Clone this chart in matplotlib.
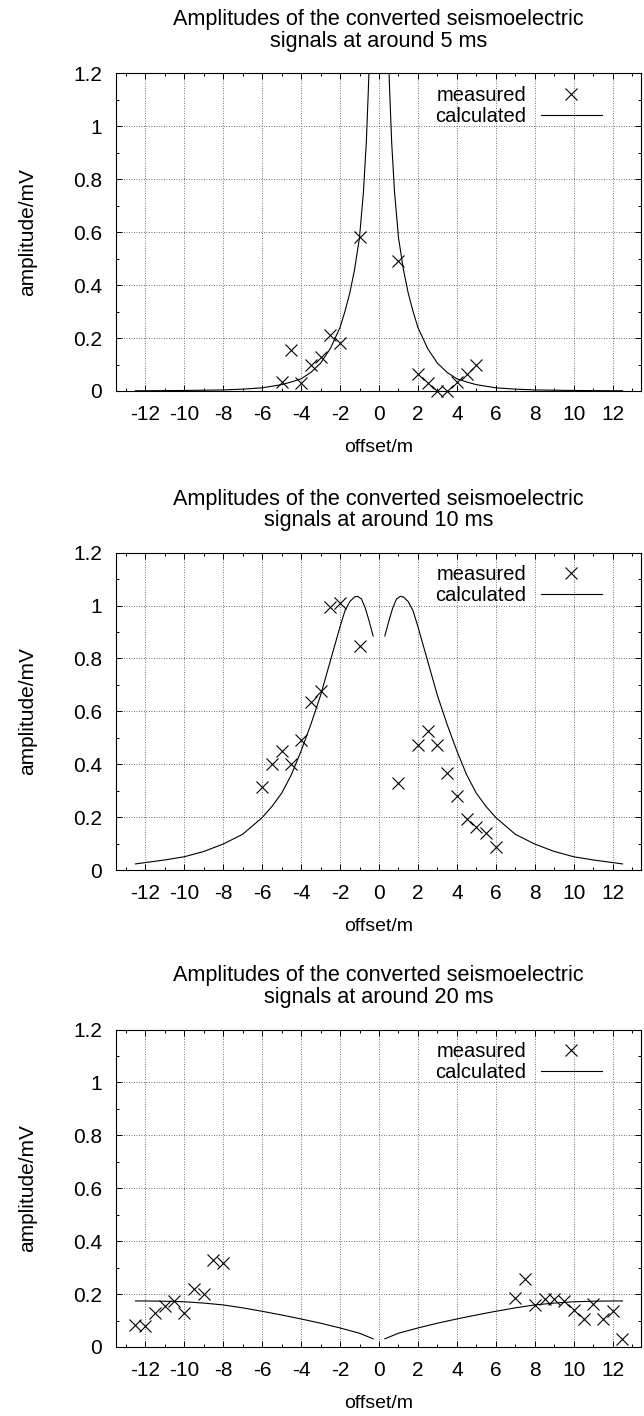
import matplotlib
matplotlib.use("Agg")
import matplotlib.pyplot as plt
from matplotlib.ticker import MultipleLocator

plt.rcParams['font.family'] = ['Liberation Sans', 'DejaVu Sans']
plt.rcParams['font.size'] = 13
plt.rcParams['axes.unicode_minus'] = False

TITLE_LINE1 = "Amplitudes of the converted seismoelectric"
TIMES = ["5 ms", "10 ms", "20 ms"]

# --- measured amplitudes (mV) vs offset (m) ---
meas5_x = [-5.0, -4.5, -4.0, -3.5, -3.0, -2.5, -2.0, -1.0, 1.0, 2.0, 2.5, 3.0, 3.5, 4.0, 4.5, 5.0]
meas5_y = [0.034, 0.156, 0.032, 0.097, 0.129, 0.21, 0.18, 0.582, 0.49, 0.066, 0.032, 0.0, 0.0, 0.034, 0.066, 0.10]

meas10_x = [-6.0, -5.5, -5.0, -4.5, -4.0, -3.5, -3.0, -2.5, -2.0, -1.0,
            1.0, 2.0, 2.5, 3.0, 3.5, 4.0, 4.5, 5.0, 5.5, 6.0]
meas10_y = [0.313, 0.401, 0.451, 0.401, 0.492, 0.634, 0.678, 0.993, 1.008, 0.847,
            0.328, 0.473, 0.527, 0.473, 0.368, 0.28, 0.193, 0.164, 0.141, 0.086]

meas20_x = [-12.5, -12.0, -11.5, -11.0, -10.5, -10.0, -9.5, -9.0, -8.5, -8.0,
            7.0, 7.5, 8.0, 8.5, 9.0, 9.5, 10.0, 10.5, 11.0, 11.5, 12.0, 12.5]
meas20_y = [0.084, 0.079, 0.129, 0.154, 0.173, 0.129, 0.218, 0.202, 0.328, 0.318,
            0.185, 0.258, 0.160, 0.180, 0.180, 0.174, 0.139, 0.107, 0.164, 0.107, 0.135, 0.032]

# --- calculated curves (left and right branch) ---
calc5_xl = [-12.5, -12, -11, -10, -9, -8, -7, -6, -5, -4.5, -4, -3.5, -3, -2.5, -2, -1.75,
            -1.5, -1.25, -1, -0.8, -0.65, -0.55, -0.45, -0.3]
calc5_yl = [0.001, 0.001, 0.0015, 0.002, 0.003, 0.004, 0.007, 0.012, 0.024, 0.034, 0.046, 0.07,
            0.105, 0.16, 0.24, 0.3, 0.37, 0.46, 0.58, 0.75, 0.94, 1.13, 1.35, 1.8]
calc5_xr = [0.3, 0.45, 0.55, 0.65, 0.8, 1, 1.25, 1.5, 1.75, 2, 2.5, 3, 3.5, 4, 4.5, 5,
            6, 7, 8, 9, 10, 11, 12, 12.5]
calc5_yr = [1.8, 1.35, 1.13, 0.94, 0.75, 0.58, 0.46, 0.37, 0.3, 0.24, 0.16, 0.105, 0.07, 0.046,
            0.034, 0.024, 0.012, 0.007, 0.004, 0.003, 0.002, 0.0015, 0.001, 0.001]

calc10_xl = [-12.5, -12, -11, -10, -9, -8, -7, -6, -5.5, -5, -4.5, -4, -3.5, -3, -2.5, -2,
             -1.75, -1.5, -1.25, -1.1, -0.9, -0.7, -0.5, -0.3]
calc10_yl = [0.023, 0.028, 0.038, 0.05, 0.07, 0.098, 0.135, 0.198, 0.24, 0.29, 0.36, 0.45,
             0.55, 0.66, 0.79, 0.92, 0.98, 1.015, 1.033, 1.035, 1.025, 0.99, 0.94, 0.885]
calc10_xr = [0.3, 0.5, 0.7, 0.9, 1.1, 1.25, 1.5, 1.75, 2, 2.5, 3, 3.5, 4, 4.5, 5, 5.5,
             6, 7, 8, 9, 10, 11, 12, 12.5]
calc10_yr = [0.885, 0.94, 0.99, 1.025, 1.035, 1.033, 1.015, 0.98, 0.92, 0.79, 0.66, 0.55,
             0.45, 0.36, 0.29, 0.24, 0.198, 0.135, 0.098, 0.07, 0.05, 0.038, 0.028, 0.023]

calc20_xl = [-12.5, -12, -11, -10, -9, -8, -7, -6, -5, -4, -3, -2, -1, -0.3]
calc20_yl = [0.174, 0.174, 0.173, 0.171, 0.166, 0.159, 0.148, 0.135, 0.121, 0.106, 0.09,
             0.072, 0.052, 0.031]
calc20_xr = [0.3, 1, 2, 3, 4, 5, 6, 7, 8, 9, 10, 11, 12, 12.5]
calc20_yr = [0.031, 0.052, 0.072, 0.09, 0.106, 0.121, 0.135, 0.148, 0.159, 0.166, 0.171,
             0.173, 0.174, 0.174]

panels = [
    (meas5_x, meas5_y, calc5_xl, calc5_yl, calc5_xr, calc5_yr),
    (meas10_x, meas10_y, calc10_xl, calc10_yl, calc10_xr, calc10_yr),
    (meas20_x, meas20_y, calc20_xl, calc20_yl, calc20_xr, calc20_yr),
]

W, H = 644, 1416
fig = plt.figure(figsize=(W / 100, H / 100), dpi=100)

# axes boxes in pixels: (top, bottom)
boxes = [(73.3, 391.0), (552.7, 870.0), (1029.5, 1347.0)]
left_px, right_px = 116.0, 641.0

for (top, bot), tlabel, (mx, my, cxl, cyl, cxr, cyr) in zip(boxes, TIMES, panels):
    ax = fig.add_axes([left_px / W, (H - bot) / H, (right_px - left_px) / W, (bot - top) / H])

    ax.plot(mx, my, linestyle='none', marker='x', color='black',
            markersize=8.5, markeredgewidth=0.8, label='measured', clip_on=False, zorder=3)
    ax.plot(cxl, cyl, color='black', linewidth=0.8, label='calculated')
    ax.plot(cxr, cyr, color='black', linewidth=0.8)

    ax.set_xlim(-13.5, 13.45)
    ax.set_ylim(0, 1.2)
    ax.xaxis.set_major_locator(MultipleLocator(2))
    ax.xaxis.set_minor_locator(MultipleLocator(1))
    ax.yaxis.set_minor_locator(MultipleLocator(0.1))
    ax.set_yticks([0, 0.2, 0.4, 0.6, 0.8, 1.0, 1.2])
    ax.set_yticklabels(['0', '0.2', '0.4', '0.6', '0.8', '1', '1.2'])

    ax.tick_params(which='both', direction='in', top=True, right=True, color='black',
                   width=0.7, labelsize=15)
    ax.tick_params(which='major', length=4.5, pad=10)
    ax.tick_params(which='minor', length=2.5)
    ax.tick_params(axis='x', which='major', pad=10)
    ax.grid(True, which='major', color='0.25', linestyle=(0, (1, 2)), linewidth=0.6)
    for s in ax.spines.values():
        s.set_linewidth(0.8)

    ax.set_title(TITLE_LINE1 + "\nsignals at around " + tlabel, pad=19, linespacing=1.05,
                 fontsize=15.6)
    ax.set_xlabel('offset/m', labelpad=11, fontsize=14)
    ax.set_ylabel('amplitude/mV', fontsize=15)
    ax.yaxis.set_label_coords(-0.15, 0.5)

    ax.legend(loc='upper right', bbox_to_anchor=(0.925, 0.96), markerfirst=False,
              frameon=False, handlelength=3.0, handletextpad=0.75, labelspacing=0.1,
              borderpad=0, borderaxespad=0, numpoints=1, fontsize=14.5)

fig.savefig('out.png', dpi=100)
